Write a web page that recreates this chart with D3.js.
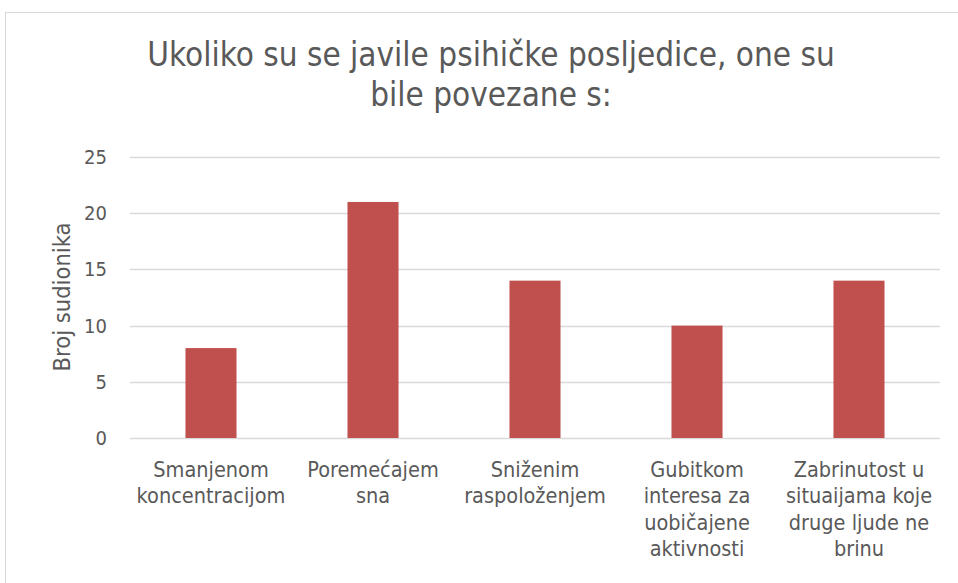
<!DOCTYPE html>
<html>
<head>
<meta charset="utf-8">
<script src="https://cdn.jsdelivr.net/npm/d3@7"></script>
<style>
  body { margin: 0; background: #fff; }
  svg { display: block; }
  text { font-family: "Liberation Sans Narrow", "DejaVu Sans Condensed", "Open Sans", sans-serif; fill: #595959; }
</style>
</head>
<body>
<svg id="chart" width="958" height="583"></svg>
<script>
const categories = [
  ["Smanjenom", "koncentracijom"],
  ["Poremećajem", "sna"],
  ["Sniženim", "raspoloženjem"],
  ["Gubitkom", "interesa za", "uobičajene", "aktivnosti"],
  ["Zabrinutost u", "situaijama koje", "druge ljude ne", "brinu"]
];
const values = [8, 21, 14, 10, 14];
const yTicks = [0, 5, 10, 15, 20, 25];
const titleLines = ["Ukoliko su se javile psihičke posljedice, one su", "bile povezane s:"];
const yLabel = "Broj sudionika";

const svg = d3.select("#chart");

// chart border
svg.append("rect")
  .attr("x", 5.5).attr("y", 12.5)
  .attr("width", 980).attr("height", 600)
  .attr("fill", "none")
  .attr("stroke", "#d9d9d9");

const margin = {top: 157, left: 130},
  width = 810,
  height = 281;

const x = d3.scaleBand()
  .domain(d3.range(categories.length))
  .range([0, width]);

const y = d3.scaleLinear()
  .domain([0, 25])
  .range([height, 0]);

const g = svg.append("g")
  .attr("transform", "translate(" + margin.left + "," + margin.top + ")");

// gridlines
g.append("g")
  .selectAll("line")
  .data(yTicks)
  .enter().append("line")
  .attr("x1", 0).attr("x2", width)
  .attr("y1", d => Math.round(y(d)) + 0.5)
  .attr("y2", d => Math.round(y(d)) + 0.5)
  .attr("stroke", "#d9d9d9")
  .attr("stroke-width", 1.3);

// y axis
const yAxis = g.append("g")
  .call(d3.axisLeft(y).tickValues(yTicks).tickSize(0).tickPadding(23));
yAxis.select(".domain").remove();
yAxis.selectAll("text")
  .style("font-size", "20px")
  .style("fill", "#595959");

// bars
const barW = x.bandwidth() * 0.315;
g.selectAll(".bar")
  .data(values)
  .enter().append("rect")
  .attr("class", "bar")
  .attr("x", (d, i) => x(i) + (x.bandwidth() - barW) / 2)
  .attr("y", d => y(d))
  .attr("width", barW)
  .attr("height", d => height - y(d))
  .attr("fill", "#c0504d");

// x labels
const xl = g.append("g")
  .selectAll("text")
  .data(categories)
  .enter().append("text")
  .attr("x", (d, i) => x(i) + x.bandwidth() / 2)
  .attr("y", height + 39)
  .attr("text-anchor", "middle")
  .style("font-size", "21.5px");
xl.selectAll("tspan")
  .data(d => d)
  .enter().append("tspan")
  .attr("x", function() { return this.parentNode.getAttribute("x"); })
  .attr("dy", (d, i) => i === 0 ? 0 : 26.3)
  .text(d => d);

// y label
svg.append("text")
  .attr("transform", "translate(70,297) rotate(-90)")
  .attr("text-anchor", "middle")
  .style("font-size", "23.5px")
  .text(yLabel);

// title
svg.append("text")
  .attr("x", 491)
  .attr("y", 66)
  .attr("text-anchor", "middle")
  .style("font-size", "33px")
  .selectAll("tspan")
  .data(titleLines)
  .enter().append("tspan")
  .attr("x", 491)
  .attr("dy", (d, i) => i === 0 ? 0 : 40)
  .text(d => d);
</script>
</body>
</html>
